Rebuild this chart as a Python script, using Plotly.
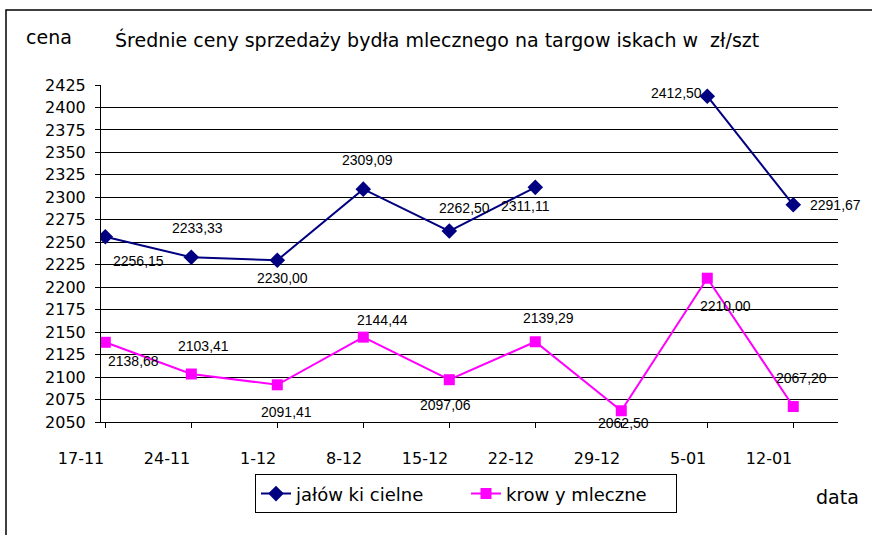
import plotly.graph_objects as go

categories = ["17-11", "24-11", "1-12", "8-12", "15-12", "22-12", "29-12", "5-01", "12-01"]
jalowki = [2256.15, 2233.33, 2230.00, 2309.09, 2262.50, 2311.11, None, 2412.50, 2291.67]
krowy = [2138.68, 2103.41, 2091.41, 2144.44, 2097.06, 2139.29, 2062.50, 2210.00, 2067.20]
y_ticks = list(range(2050, 2426, 25))

series_names = ["jałów ki cielne", "krow y mleczne"]
title_text = "Średnie ceny sprzedaży bydła mlecznego na targow iskach w  zł/szt"

# label offsets (px, screen-down positive) for data labels
jal_off = [(33, 24), (6, -29), (5, 18), (4, -29), (15, -23), (-10, 19), None, (-31, -3), (42, 0)]
kro_off = [(28, 19), (12, -28), (9, 27), (19, -17), (-4, 25), (13, -24), (2, 12), (18, 28), (8, -29)]

FONT = "DejaVu Sans, sans-serif"
LFONT = "Liberation Sans, Arial, sans-serif"
xs = list(range(len(categories)))

fig = go.Figure()
fig.add_trace(go.Scatter(
    x=xs, y=jalowki, name=series_names[0], mode="lines+markers",
    line=dict(color="#000080", width=2),
    marker=dict(symbol="diamond", size=12, color="#000080"),
    connectgaps=False,
))
fig.add_trace(go.Scatter(
    x=xs, y=krowy, name=series_names[1], mode="lines+markers",
    line=dict(color="#FF00FF", width=2),
    marker=dict(symbol="square", size=11, color="#FF00FF"),
))

def fmt(v):
    return f"{v:.2f}".replace(".", ",")

annotations = []
for vals, offs in ((jalowki, jal_off), (krowy, kro_off)):
    for i, (v, o) in enumerate(zip(vals, offs)):
        if v is None or o is None:
            continue
        annotations.append(dict(
            x=i, y=v, xref="x", yref="y", text=fmt(v), showarrow=False,
            xanchor="center", yanchor="middle", xshift=o[0], yshift=-o[1],
            font=dict(family=LFONT, size=14, color="black"),
        ))

L, R, T, B = 101, 34, 85, 112.5
W, H = 872, 535
pw, ph = W - L - R, H - T - B

def px_x(p):
    return (p - L) / pw

def px_y(p):
    return (H - B - p) / ph

annotations.append(dict(x=px_x(49), y=px_y(37), xref="paper", yref="paper", text="cena",
                        showarrow=False, xanchor="center", yanchor="middle",
                        font=dict(family=FONT, size=19, color="black")))
annotations.append(dict(x=px_x(837), y=px_y(498), xref="paper", yref="paper", text="data",
                        showarrow=False, xanchor="center", yanchor="middle",
                        font=dict(family=FONT, size=19, color="black")))

fig.update_layout(
    width=W, height=H,
    margin=dict(l=L, r=R, t=T, b=B),
    paper_bgcolor="white", plot_bgcolor="white",
    title=dict(text=title_text, x=115 / W, xref="container", xanchor="left",
               y=1 - 40 / H, yref="container", yanchor="middle",
               font=dict(family=FONT, size=19, color="black")),
    font=dict(family=FONT, color="black"),
    showlegend=True,
    legend=dict(orientation="h", x=px_x(466), y=px_y(475), xanchor="center", yanchor="top",
                bgcolor="white", bordercolor="black", borderwidth=1,
                entrywidth=165,
                font=dict(family=FONT, size=18, color="black")),
    annotations=annotations,
    shapes=[dict(type="rect", xref="paper", yref="paper",
                 x0=px_x(6), x1=px_x(900), y0=px_y(560), y1=px_y(10),
                 line=dict(color="black", width=1.5), fillcolor="rgba(0,0,0,0)", layer="below")],
)

fig.update_xaxes(
    range=[-0.05, 8.52], tickmode="array", tickvals=xs, ticktext=categories,
    showgrid=False, zeroline=False, showline=True, linecolor="black", linewidth=1,
    ticks="outside", ticklen=5, tickcolor="black",
    ticklabelposition="outside left", ticklabelstandoff=22,
    tickfont=dict(family=FONT, size=16, color="black"),
)
fig.update_yaxes(
    range=[2050, 2425], tickmode="array", tickvals=y_ticks,
    showgrid=True, gridcolor="black", gridwidth=1, zeroline=False,
    showline=True, linecolor="black", linewidth=1,
    ticks="outside", ticklen=5, tickcolor="black", ticklabelstandoff=6,
    tickfont=dict(family=FONT, size=16, color="black"),
)

fig.write_html("out.html", config={"displayModeBar": False},
               post_script="document.body.style.margin='0';document.body.style.overflow='hidden';")
